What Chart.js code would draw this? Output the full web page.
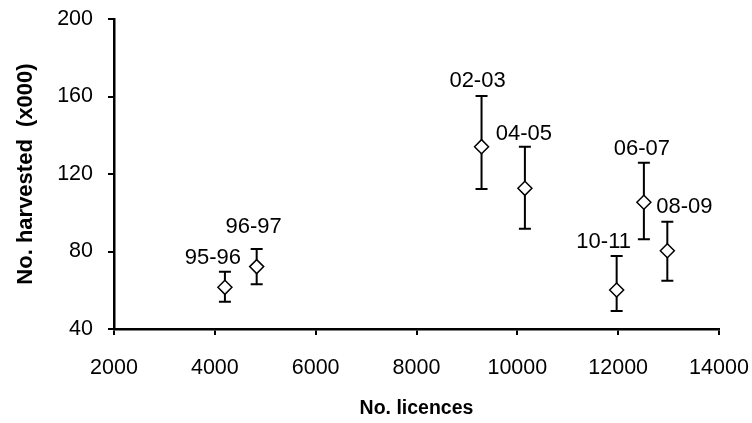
<!DOCTYPE html>
<html>
<head>
<meta charset="utf-8">
<script src="https://cdn.jsdelivr.net/npm/chart.js@4/dist/chart.umd.min.js"></script>
<style>
  html, body { margin: 0; padding: 0; background: #fff; }
  #wrap { width: 752px; height: 423px; position: relative; }
</style>
</head>
<body>
<div id="wrap"><canvas id="chart"></canvas></div>
<script>
const seasons = ['95-96', '96-97', '02-03', '04-05', '06-07', '08-09', '10-11'];
const licences = [4200, 4830, 9290, 10150, 12510, 12975, 11970];
const harvested = [61.5, 72.2, 134.1, 112.6, 105.4, 80.4, 60.1];
const harvestHigh = [69.6, 81.3, 160.3, 134.1, 125.8, 95.4, 77.7];
const harvestLow = [54.1, 63.1, 112.3, 91.8, 86.3, 64.9, 49.3];
const xTicks = [2000, 4000, 6000, 8000, 10000, 12000, 14000];
const yTicks = [40, 80, 120, 160, 200];

// label nudges in px, relative to the top of the error bar
const labelNudge = [[-12, -14], [-3, -22], [-4, -15], [-1, -13], [-2, -14], [17, -15], [-13, -14]];

const FONT = "'Liberation Sans', Arial, sans-serif";

const errorBars = {
  id: 'errorBars',
  beforeDatasetsDraw(chart) {
    const { ctx, scales: { x, y } } = chart;
    ctx.save();
    ctx.strokeStyle = '#000';
    ctx.lineWidth = 2;
    licences.forEach((lic, i) => {
      const px = x.getPixelForValue(lic);
      const top = y.getPixelForValue(harvestHigh[i]);
      const bot = y.getPixelForValue(harvestLow[i]);
      ctx.beginPath();
      ctx.moveTo(px, top);
      ctx.lineTo(px, bot);
      ctx.moveTo(px - 6, top);
      ctx.lineTo(px + 6, top);
      ctx.moveTo(px - 6, bot);
      ctx.lineTo(px + 6, bot);
      ctx.stroke();
    });
    ctx.restore();
  },
  afterDatasetsDraw(chart) {
    const { ctx, scales: { x, y } } = chart;
    ctx.save();
    ctx.fillStyle = '#000';
    ctx.font = `22px ${FONT}`;
    ctx.textAlign = 'center';
    ctx.textBaseline = 'middle';
    seasons.forEach((s, i) => {
      const px = x.getPixelForValue(licences[i]);
      const top = y.getPixelForValue(harvestHigh[i]);
      const [dx, dy] = labelNudge[i];
      ctx.fillText(s, px + dx, top + dy);
    });
    ctx.restore();
  }
};

new Chart(document.getElementById('chart'), {
  type: 'scatter',
  data: {
    datasets: [{
      label: 'No. harvested',
      data: licences.map((lic, i) => ({ x: lic, y: harvested[i] })),
      pointStyle: 'rectRot',
      pointRadius: 7,
      pointHoverRadius: 7,
      pointBackgroundColor: '#fff',
      pointBorderColor: '#000',
      pointBorderWidth: 1.5,
    }],
  },
  options: {
    responsive: true,
    maintainAspectRatio: false,
    animation: false,
    layout: { padding: 0 },
    plugins: {
      legend: { display: false },
      tooltip: { enabled: false },
    },
    scales: {
      x: {
        type: 'linear',
        min: 2000,
        max: 14000,
        afterBuildTicks: (scale) => { scale.ticks = xTicks.map((v) => ({ value: v })); },
        afterFit: (scale) => {
          scale.height = 94;
          scale.paddingLeft = 0;
          scale.paddingRight = 33;
        },
        border: { display: true, color: '#000', width: 2.5 },
        grid: { drawOnChartArea: false, drawTicks: true, tickLength: 6, color: '#000', lineWidth: 2 },
        ticks: {
          color: '#000',
          font: { family: FONT, size: 21.5 },
          padding: 20,
          maxRotation: 0,
          autoSkip: false,
          callback: (v) => String(v),
        },
        title: {
          display: true,
          text: 'No. licences',
          color: '#000',
          font: { family: FONT, size: 19.5, weight: 'bold' },
          padding: { top: 0, bottom: 3 },
        },
      },
      y: {
        type: 'linear',
        min: 40,
        max: 200,
        afterBuildTicks: (scale) => { scale.ticks = yTicks.map((v) => ({ value: v })); },
        afterFit: (scale) => {
          scale.width = 114;
          scale.paddingTop = 19;
          scale.paddingBottom = 0;
        },
        border: { display: true, color: '#000', width: 2.5 },
        grid: { drawOnChartArea: false, drawTicks: true, tickLength: 6, color: '#000', lineWidth: 2 },
        ticks: {
          color: '#000',
          font: { family: FONT, size: 21.5 },
          padding: 15,
          callback: (v) => String(v),
        },
        title: {
          display: true,
          text: 'No. harvested  (x000)',
          color: '#000',
          font: { family: FONT, size: 22, weight: 'bold' },
          padding: { top: 13, bottom: 0 },
        },
      },
    },
  },
  plugins: [errorBars],
});
</script>
</body>
</html>
